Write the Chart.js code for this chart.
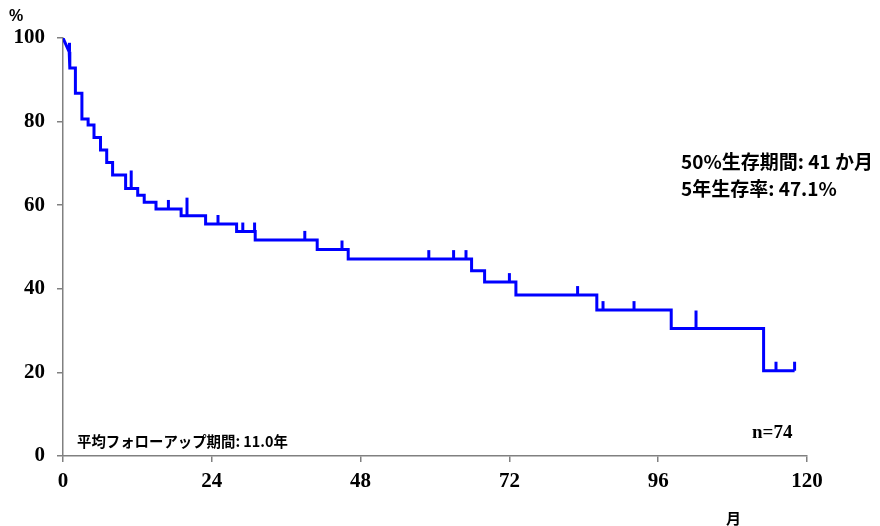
<!DOCTYPE html>
<html>
<head>
<meta charset="utf-8">
<script src="https://cdn.jsdelivr.net/npm/chart.js@4/dist/chart.umd.min.js"></script>
<style>
  html, body { margin: 0; padding: 0; background: #ffffff; }
  #wrap { width: 880px; height: 526px; position: relative; }
</style>
</head>
<body>
<div id="wrap"><canvas id="km" width="880" height="526"></canvas></div>
<script>
// Kaplan-Meier overall survival, months from start of treatment
const eventMonths = [1.0, 1.1, 2.0, 3.05, 4.05, 5.0, 6.05, 7.05, 8.0, 10.1, 12.05, 13.1, 15.0, 19.05, 23.0, 28.0, 31.0, 41.0, 46.0, 65.9, 68.0, 73.05, 86.1, 98.1, 113.0];
const survivalPct = [96.7, 92.8, 86.8, 80.6, 79.2, 76.2, 73.2, 70.2, 67.2, 64.0, 62.4, 60.7, 59.1, 57.5, 55.5, 53.7, 51.7, 49.4, 47.1, 44.3, 41.6, 38.5, 34.9, 30.5, 20.4];
const lastFollowUp = 118;

// censored observations (month, number censored at that time)
const censorMonths = [1.05, 11.0, 17.0, 20.0, 25.0, 29.0, 30.9, 39.0, 45.0, 59.0, 63.0, 65.0, 72.0, 83.0, 87.1, 92.1, 102.1, 115.0, 118.0];
const censorCounts = [1, 2, 1, 2, 1, 1, 1, 1, 1, 1, 1, 1, 1, 1, 1, 1, 2, 1, 1];

const xTicks = [0, 24, 48, 72, 96, 120];
const yTicks = [0, 20, 40, 60, 80, 100];

const sampleSize = 74;
const medianMonths = 41;
const fiveYearPct = 47.1;
const meanFollowUpYears = 11.0;

// step curve: first segment joins the origin directly, then horizontal/vertical steps
function buildCurve() {
  const pts = [{ x: 0, y: 100 }];
  pts.push({ x: eventMonths[0], y: survivalPct[0] });
  for (let i = 1; i < eventMonths.length; i++) {
    pts.push({ x: eventMonths[i], y: survivalPct[i - 1] });
    pts.push({ x: eventMonths[i], y: survivalPct[i] });
  }
  pts.push({ x: lastFollowUp, y: survivalPct[survivalPct.length - 1] });
  return pts;
}

function survivalAt(t) {
  let s = 100;
  for (let i = 0; i < eventMonths.length; i++) {
    if (eventMonths[i] <= t) s = survivalPct[i];
  }
  return s;
}

const censorPlugin = {
  id: 'censorTicks',
  afterDatasetsDraw(chart) {
    const ctx = chart.ctx;
    const xs = chart.scales.x, ys = chart.scales.y;
    ctx.save();
    ctx.strokeStyle = '#0000FF';
    ctx.lineWidth = 3;
    ctx.lineCap = 'butt';
    censorMonths.forEach((m, i) => {
      const px = xs.getPixelForValue(m);
      const py = ys.getPixelForValue(survivalAt(m));
      ctx.beginPath();
      ctx.moveTo(px, py);
      ctx.lineTo(px, py - 9 * censorCounts[i]);
      ctx.stroke();
    });
    ctx.restore();
  }
};

const textPlugin = {
  id: 'chartTexts',
  afterDraw(chart) {
    const ctx = chart.ctx;
    ctx.save();
    ctx.fillStyle = '#000000';
    ctx.textBaseline = 'middle';
    ctx.textAlign = 'left';

    ctx.font = 'bold 16px "Liberation Sans", Arial, sans-serif';
    ctx.fillText('%', 9, 17);

    ctx.font = 'bold 19px "Noto Sans CJK JP", sans-serif';
    ctx.fillText('50%生存期間: ' + medianMonths + ' か月', 681, 162);
    ctx.fillText('5年生存率: ' + fiveYearPct.toFixed(1) + '%', 681, 189);

    ctx.font = 'bold 19px "Liberation Serif", "Times New Roman", serif';
    ctx.fillText('n=' + sampleSize, 752, 433);

    // slightly condensed footnote
    ctx.save();
    ctx.translate(77, 441);
    ctx.scale(0.96, 1);
    ctx.font = 'bold 15px "Noto Sans CJK JP", sans-serif';
    ctx.fillText('平均フォローアップ期間: ' + meanFollowUpYears.toFixed(1) + '年', 0, 0);
    ctx.restore();

    ctx.font = 'bold 15px "Noto Sans CJK JP", sans-serif';
    ctx.fillText('月', 726, 518);
    ctx.restore();
  }
};

const axisColor = '#808080';
const tickFont = { family: '"Liberation Serif", "Times New Roman", serif', size: 21, weight: 'bold' };

new Chart(document.getElementById('km'), {
  type: 'scatter',
  data: {
    datasets: [{
      data: buildCurve(),
      showLine: true,
      borderColor: '#0000FF',
      borderWidth: 3,
      pointRadius: 0,
      pointHoverRadius: 0,
      tension: 0,
      fill: false
    }]
  },
  options: {
    responsive: false,
    animation: false,
    events: [],
    layout: { padding: { left: 0, top: 38, right: 73, bottom: 0 } },
    plugins: { legend: { display: false }, tooltip: { enabled: false } },
    scales: {
      x: {
        type: 'linear',
        min: 0, max: 120,
        afterFit(s) { s.height = 70; },
        afterBuildTicks(s) { s.ticks = xTicks.map(v => ({ value: v })); },
        ticks: { color: '#000000', font: tickFont, padding: 7, maxRotation: 0 },
        grid: { display: true, drawOnChartArea: false, drawTicks: true, tickLength: 6, color: axisColor, lineWidth: 1.5 },
        border: { display: true, color: axisColor, width: 1.5 }
      },
      y: {
        type: 'linear',
        min: 0, max: 100,
        afterFit(s) { s.width = 63; },
        afterBuildTicks(s) { s.ticks = yTicks.map(v => ({ value: v })); },
        ticks: { color: '#000000', font: tickFont, padding: 12 },
        grid: { display: true, drawOnChartArea: false, drawTicks: true, tickLength: 6, color: axisColor, lineWidth: 1.5 },
        border: { display: true, color: axisColor, width: 1.5 }
      }
    }
  },
  plugins: [censorPlugin, textPlugin]
});
</script>
</body>
</html>
